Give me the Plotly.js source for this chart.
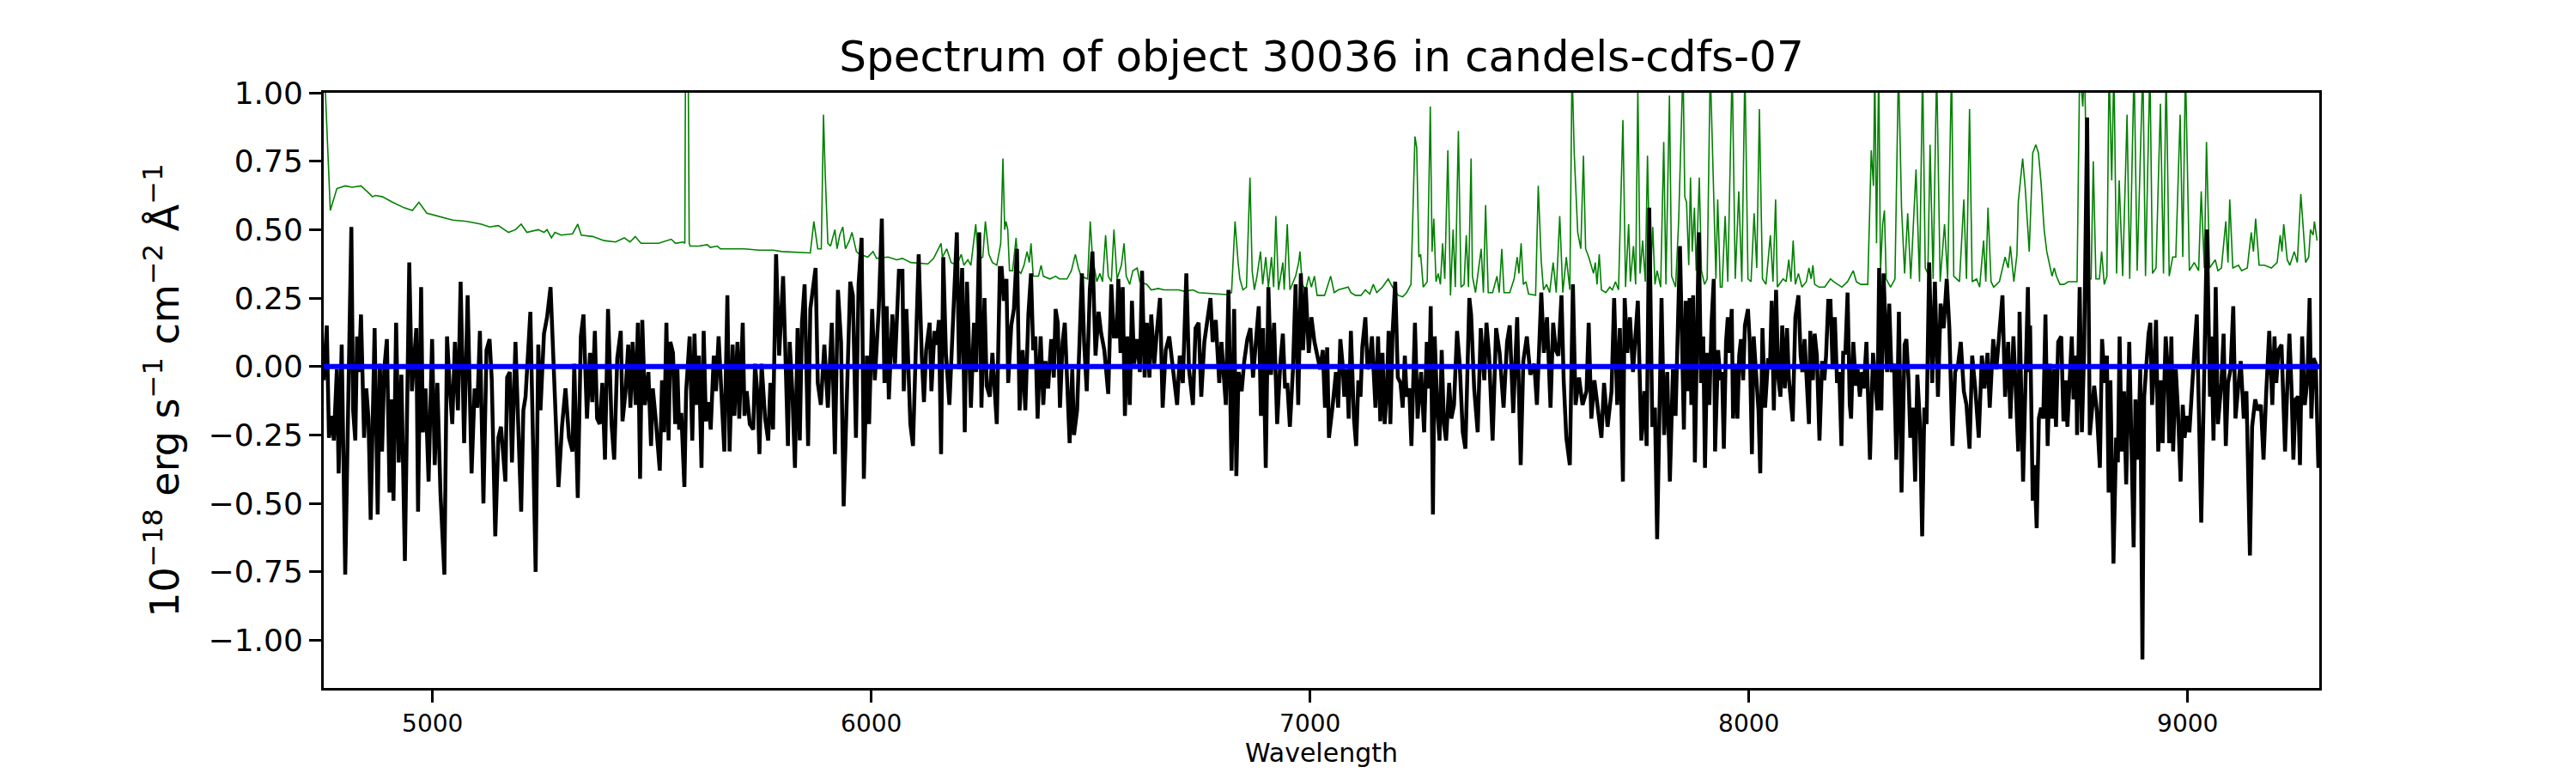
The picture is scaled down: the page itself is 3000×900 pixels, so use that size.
<!DOCTYPE html>
<html>
<head>
<meta charset="utf-8">
<script src="https://cdn.plot.ly/plotly-3.0.1.min.js"></script>
<style>
html,body{margin:0;padding:0;background:#fff;}
#chart{width:3000px;height:900px;}
</style>
</head>
<body>
<div id="chart"></div>
<script>
// Observed flux (black), wavelength in Angstrom
const wave = [4752,4759,4764,4771,4775,4782,4786,4793,4801,4810,4815,4819,4824,4828,4832,4837,4844,4849,4854,4859,4868,4875,4880,4885,4890,4896,4902,4907,4911,4917,4923,4929,4937,4947,4953,4963,4967,4974,4978,4984,4991,4999,5005,5011,5018,5027,5033,5039,5045,5051,5058,5064,5072,5080,5089,5096,5102,5108,5116,5123,5130,5135,5143,5150,5156,5166,5170,5176,5181,5189,5196,5202,5207,5212,5223,5235,5241,5246,5254,5261,5269,5275,5279,5287,5295,5303,5311,5319,5323,5331,5338,5344,5352,5359,5364,5370,5375,5381,5387,5393,5400,5408,5414,5421,5429,5433,5440,5446,5451,5456,5463,5468,5473,5478,5484,5492,5498,5502,5508,
5518,5523,5528,5533,5538,5542,5548,5553,5558,5562,5567,5574,5578,5586,5592,5597,5602,5607,5613,5618,5623,5629,5634,5641,5646,5652,5658,5665,5672,5677,5684,5688,5695,5699,5707,5711,5716,5723,5731,5735,5741,5745,5750,5758,5765,5770,5776,5783,5790,5799,5804,5810,5814,5820,5826,5832,5837,5842,5848,5856,5861,5868,5873,5878,5885,5893,5901,5910,5917,5924,5931,5937,5943,5952,5958,5965,5971,5978,5983,5990,5995,6002,6008,6017,6024,6030,6035,6040,6048,6054,6063,6071,6074,6080,6089,6095,6101,6108,6115,6120,6125,6133,6137,6144,6149,6154,6159,6164,6170,6178,6185,6195,6200,6207,6213,6218,6227,6234,6239,6246,6251,6258,6263,6270,6276,6286,
6293,6297,6302,6308,6312,6319,6325,6332,6338,6345,6351,6358,6364,6369,6374,6379,6386,6392,6397,6403,6410,6416,6420,6425,6430,6436,6441,6446,6452,6458,6462,6469,6475,6480,6485,6491,6498,6504,6511,6518,6524,6531,6540,6547,6553,6559,6563,6568,6573,6578,6583,6589,6594,6599,6606,6612,6617,6623,6628,6634,6638,6645,6651,6658,6664,6671,6679,6687,6697,6703,6710,6718,6724,6733,6739,6746,6752,6759,6764,6773,6778,6785,6793,6798,6808,6814,6821,6827,6832,6837,6844,6850,6857,6864,6870,6875,6883,6888,6893,6899,6905,6911,6918,6925,6932,6938,6943,6948,6954,6961,6967,6973,6979,6984,6990,6997,7003,7010,7016,7023,7029,7034,7039,7043,7051,7059,
7064,7069,7074,7078,7084,7088,7093,7100,7105,7110,7115,7119,7126,7131,7136,7141,7149,7155,7160,7165,7170,7175,7179,7183,7188,7194,7200,7206,7211,7216,7220,7226,7231,7239,7245,7253,7260,7266,7271,7275,7280,7284,7290,7295,7300,7305,7310,7317,7322,7328,7335,7341,7348,7354,7363,7367,7374,7382,7389,7397,7402,7408,7416,7424,7432,7441,7449,7455,7463,7472,7480,7486,7494,7502,7511,7517,7527,7533,7540,7548,7554,7560,7566,7573,7578,7584,7592,7599,7605,7613,7621,7630,7635,7641,7648,7656,7664,7670,7678,7687,7693,7700,7706,7713,7717,7723,7729,7736,7742,7747,7755,7762,7767,7773,7780,7786,7791,7801,7807,7814,7820,7827,7833,7837,7843,
7852,7856,7861,7865,7869,7873,7877,7881,7886,7891,7896,7900,7905,7910,7915,7920,7923,7930,7935,7939,7943,7948,7952,7956,7961,7964,7971,7974,7978,7982,7987,7991,7998,8002,8007,8011,8016,8022,8026,8031,8037,8044,8048,8052,8057,8062,8067,8072,8076,8082,8087,8091,8095,8100,8106,8113,8118,8122,8127,8133,8137,8140,8146,8150,8155,8161,8167,8172,8176,8181,8186,8191,8196,8201,8206,8211,8215,8220,8225,8230,8233,8238,8244,8248,8253,8258,8262,8268,8276,8283,8288,8293,8297,8302,8307,8311,8315,8320,8325,8331,8336,8342,8348,8355,8359,8364,8368,8374,8379,8384,8390,8395,8400,8405,8411,8418,8424,8431,8437,8444,8451,8457,8464,8470,8477,8483,8490,8496,8503,8509,8516,8524,8531,8537,8544,8549,8557,8564,8570,8578,8584,8591,8596,8603,8609,8614,
8617,8621,8625,8630,8636,8639,8641,8647,8651,8656,8661,8666,8671,8676,8681,8686,8691,8696,8700,8705,8712,8717,8722,8726,8731,8736,8740,8746,8748,8754,8759,8764,8771,8777,8782,8787,8793,8800,8805,8811,8816,8820,8824,8831,8837,8841,8845,8850,8855,8860,8867,8872,8877,8881,8887,8892,8897,8901,8906,8911,8915,8919,8924,8928,8933,8939,8943,8950,8954,8958,8963,8967,8973,8978,8984,8989,8993,8999,9004,9008,9015,9021,9031,9038,9044,9051,9054,9059,9064,9069,9077,9082,9087,9092,9098,9104,9109,9115,9121,9128,9134,9142,9147,9154,9160,9167,9173,9179,9186,9193,9198,9202,9207,9214,9222,9227,9232,9237,9241,9246,9252,9256,9261,9267,9273,9278,9282,9287,9292,9298];
const flux = [-0.05,0.15,-0.26,-0.18,-0.27,-0.01,-0.39,0.08,-0.76,0.05,0.51,-0.16,-0.27,0.11,-0.02,0.19,-0.26,-0.08,-0.19,-0.56,0.14,-0.54,0.01,-0.31,-0.01,0.10,-0.46,-0.12,-0.49,0.16,-0.35,-0.03,-0.71,0.38,-0.09,0.14,-0.53,0.29,-0.24,-0.08,-0.42,0.10,-0.36,-0.06,-0.46,-0.76,0.11,-0.07,-0.21,0.09,-0.16,0.31,-0.28,0.26,-0.39,-0.08,-0.15,0.13,-0.50,0.06,0.10,-0.05,-0.62,-0.26,-0.22,-0.42,-0.04,-0.02,-0.35,0.09,-0.29,-0.53,-0.16,-0.11,0.20,-0.75,0.08,-0.16,0.12,0.18,0.29,0.06,-0.14,-0.44,-0.22,-0.08,-0.26,-0.31,0.01,-0.48,0.11,0.19,-0.19,0.05,-0.13,0.13,-0.19,-0.21,-0.06,-0.34,0.21,-0.21,-0.34,0.03,0.13,-0.20,-0.09,0.08,-0.15,0.09,-0.14,0.16,-0.41,0.17,-0.14,-0.02,-0.29,-0.08,-0.18,
-0.38,-0.05,-0.24,0.16,-0.27,0.09,0.05,-0.21,0.00,-0.23,-0.17,-0.44,-0.09,0.11,-0.27,0.12,-0.14,0.04,-0.37,0.13,-0.20,-0.13,-0.23,0.04,-0.09,0.11,-0.11,-0.31,0.26,-0.31,0.08,-0.18,0.09,-0.19,0.16,-0.18,-0.09,-0.21,-0.23,0.01,-0.11,-0.32,0.01,-0.19,-0.27,-0.06,-0.23,0.41,0.04,0.33,0.06,-0.29,0.09,-0.09,-0.37,0.14,-0.27,0.16,0.30,-0.29,0.21,0.29,0.36,-0.06,-0.14,0.08,-0.15,0.16,-0.32,0.28,0.09,-0.51,-0.14,0.31,0.26,-0.26,0.30,0.47,-0.41,0.04,-0.21,0.21,-0.05,0.21,0.54,-0.06,0.22,-0.12,0.19,0.01,0.35,0.35,-0.09,0.21,-0.21,-0.29,0.04,0.41,0.04,-0.13,0.06,0.16,-0.09,0.13,0.08,0.17,-0.32,0.40,0.05,-0.14,0.12,0.49,-0.01,0.36,-0.24,0.31,-0.15,0.16,-0.02,0.49,-0.15,0.25,-0.07,-0.11,0.05,-0.21,
0.36,0.36,0.24,0.32,-0.06,0.15,0.21,0.43,-0.16,0.06,-0.16,0.19,0.34,0.06,0.11,-0.19,0.11,-0.14,0.02,-0.08,0.10,-0.04,0.21,0.16,-0.15,0.09,0.16,-0.01,-0.28,-0.01,-0.25,-0.16,0.10,0.34,0.09,-0.09,0.28,0.42,0.04,0.20,0.12,0.06,-0.10,0.30,0.11,0.11,0.32,0.05,0.29,-0.18,0.11,-0.14,0.24,0.01,0.10,-0.02,0.35,-0.04,0.16,-0.04,0.19,0.01,0.13,0.25,-0.15,0.06,0.11,0.01,-0.14,0.04,-0.06,0.34,-0.01,-0.14,0.14,0.16,-0.11,0.09,0.14,0.25,0.09,0.17,-0.06,0.09,-0.14,0.28,-0.38,0.21,-0.40,-0.02,-0.09,0.02,0.10,0.14,-0.04,0.06,0.22,-0.18,0.14,-0.37,0.29,-0.03,0.16,-0.21,0.01,0.12,-0.08,-0.06,-0.22,-0.01,0.30,-0.14,0.34,0.06,0.29,0.05,0.18,0.09,0.04,-0.01,0.06,-0.15,0.07,-0.26,-0.15,-0.02,
-0.15,0.10,0.01,-0.11,-0.01,-0.19,0.13,-0.19,-0.29,-0.05,-0.11,0.07,0.18,-0.01,0.02,0.11,-0.15,0.11,-0.20,0.05,-0.21,-0.09,0.13,-0.21,0.12,0.31,-0.04,-0.06,-0.15,0.04,-0.11,-0.08,-0.29,0.16,-0.19,-0.02,-0.24,0.09,-0.08,0.22,-0.54,0.11,-0.16,-0.27,0.06,-0.21,-0.27,-0.06,-0.19,-0.14,0.13,0.01,-0.24,-0.30,0.25,0.19,-0.08,-0.24,0.14,-0.05,0.16,0.04,-0.27,0.14,0.05,-0.15,0.09,0.15,-0.17,0.18,-0.36,0.02,0.11,-0.03,0.01,-0.14,0.27,0.05,0.18,-0.15,0.16,0.06,0.04,0.26,-0.05,-0.26,-0.36,0.30,-0.14,-0.04,-0.14,-0.09,0.16,-0.19,-0.05,-0.16,-0.26,-0.06,-0.22,-0.09,0.25,-0.14,0.14,-0.42,0.25,0.05,0.18,-0.02,0.14,0.24,-0.27,-0.09,-0.29,0.58,-0.22,-0.15,-0.63,0.25,-0.25,-0.02,-0.42,-0.01,-0.18,0.06,0.44,
-0.23,0.24,-0.09,0.25,-0.14,0.26,-0.35,0.09,0.49,-0.06,0.11,-0.37,0.05,-0.14,0.16,0.32,-0.31,0.06,-0.05,-0.02,-0.30,0.09,0.18,0.05,0.21,-0.19,0.01,-0.19,0.04,0.10,-0.05,0.15,0.21,0.09,-0.32,0.11,-0.02,-0.16,-0.39,0.14,-0.15,0.03,-0.01,0.24,-0.16,0.28,-0.04,-0.11,0.15,-0.08,0.14,-0.04,-0.11,-0.20,0.18,0.26,0.04,-0.02,0.10,-0.06,-0.21,0.13,-0.05,0.12,0.04,-0.27,0.02,-0.05,0.04,0.24,0.24,-0.01,0.18,-0.06,-0.02,-0.29,0.05,0.05,0.27,-0.14,-0.19,0.09,-0.07,-0.01,-0.11,-0.02,-0.08,0.09,-0.34,0.05,-0.08,-0.16,0.36,-0.16,0.34,0.18,-0.02,0.23,-0.02,0.01,-0.34,0.20,-0.46,0.08,0.10,-0.05,-0.26,-0.15,-0.42,-0.03,-0.21,-0.62,-0.15,-0.21,0.38,-0.06,0.31,-0.11,0.23,0.14,0.32,0.14,-0.29,-0.02,0.01,0.09,-0.09,-0.14,-0.30,0.04,-0.08,-0.26,0.04,-0.08,0.05,-0.15,0.10,-0.01,0.11,0.26,-0.11,0.09,-0.19,0.11,-0.11,-0.31,
0.20,-0.09,-0.42,-0.09,0.29,-0.02,0.15,-0.49,-0.36,-0.59,-0.19,-0.15,-0.19,0.19,-0.29,0.01,-0.19,-0.01,-0.22,0.09,0.11,-0.20,-0.05,-0.22,-0.04,0.11,-0.12,0.04,-0.25,0.29,-0.24,0.05,0.91,-0.25,-0.16,-0.07,-0.16,-0.37,0.10,-0.06,0.04,-0.46,-0.05,-0.72,-0.26,-0.35,0.11,-0.31,-0.09,-0.43,0.09,-0.34,-0.66,-0.12,-0.34,-0.01,-1.07,-0.11,0.03,0.12,0.16,-0.14,0.01,0.17,-0.31,-0.05,-0.28,0.11,0.01,-0.28,0.11,-0.31,-0.01,-0.16,-0.42,-0.14,-0.26,-0.18,-0.24,-0.11,0.05,0.19,-0.57,-0.01,0.50,-0.11,0.11,-0.27,0.29,-0.21,-0.06,0.12,-0.29,-0.06,-0.01,0.22,-0.19,-0.08,0.02,-0.19,-0.09,-0.69,-0.22,-0.12,-0.16,-0.14,-0.34,-0.10,0.13,-0.14,0.11,-0.06,0.06,0.08,-0.31,-0.08,0.12,-0.09,-0.34,-0.12,-0.11,-0.36,0.11,-0.14,-0.05,0.25,-0.19,0.03,0.01,-0.37];

// Sky / noise spectrum (green)
const skyWave = [4752,4767,4782,4801,4817,4837,4857,4863,4870,4886,4909,4935,4954,4969,4987,5013,5046,5078,5111,5130,5150,5173,5189,5202,5215,5241,5254,5261,5271,5279,5293,5319,5331,5339,5365,5391,5417,5437,5450,5462,5475,
5515,5544,5554,5571,5575,5577,5582,5585,5587,5607,5626,5633,5649,5656,5678,5711,5744,5776,5796,5861,5869,5878,5886,5891,5895,5901,5907,5917,5922,5928,5935,5941,5950,5956,5966,5973,5992,6004,6012,6038,6058,6071,6090,6129,6142,6159,6162,6172,6182,6195,6205,6211,6220,6227,6238,6244,6254,6260,6268,6276,6286,
6295,6300,6304,6307,6311,6315,6322,6330,6335,6341,6348,6355,6360,6364,6369,6381,6387,6392,6407,6420,6429,6446,6456,6465,6472,6478,6493,6499,6504,6514,6521,6527,6534,6540,6547,6553,6560,6570,6576,6581,6589,6596,6606,6612,6628,6638,6654,6667,6700,6713,6733,6746,6785,6811,6821,6829,6836,6840,6847,6855,6863,6868,6873,6879,6887,6892,6899,6905,6912,6917,6922,6928,6938,6941,6948,6954,6967,6974,6977,6982,6990,6997,7003,7010,7016,7033,7047,7055,
7064,7077,7087,7093,7103,7116,7126,7136,7144,7152,7165,7178,7188,7201,7211,7220,7230,7239,7243,7248,7252,7258,7267,7274,7278,7282,7287,7292,7297,7302,7307,7314,7320,7326,7331,7338,7344,7351,7356,7361,7367,7370,7377,7390,7395,7400,7406,7416,7426,7431,7437,7442,7455,7465,7472,7476,7481,7486,7492,7498,7514,7520,7527,7532,7539,7546,7554,7561,7569,7576,7584,7592,7597,7602,7610,7617,7623,7628,7635,7646,7650,7654,7659,7664,7674,7683,7689,7696,7703,7713,7719,7726,7730,7737,7742,7747,7752,7758,7764,7769,7775,7781,7786,7791,7799,7806,7811,7819,7824,7833,
7840,7850,7854,7858,7863,7867,7871,7876,7880,7887,7892,7899,7905,7912,7917,7920,7925,7929,7935,7939,7946,7952,7962,7969,7977,7984,7991,7998,8005,8012,8018,8024,8031,8039,8049,8055,8061,8065,8078,8085,8091,8096,8101,8106,8113,8121,8131,8137,8142,8146,8150,8160,8173,8186,8193,8212,8225,8238,8245,8255,8271,8279,8284,8287,8291,8296,8300,8305,8309,8313,8323,8333,8341,8348,8355,8362,8369,8381,8389,8396,8402,8408,8413,8420,8428,8436,8446,8453,8462,8467,8480,8490,8496,8503,8509,8519,8526,8535,8540,8545,8552,8558,8571,8584,8591,8596,8604,8611,
8614,8624,8630,8639,8647,8654,8660,8666,8673,8679,8686,8691,8696,8701,8709,8718,8728,8748,8754,8761,8765,8774,8780,8785,8791,8799,8804,8810,8816,8821,8827,8832,8838,8844,8852,8862,8868,8878,8885,8898,8904,8914,8920,8928,8938,8945,8951,8958,8966,8973,8983,8989,8995,9004,9015,9025,9031,9038,9043,9050,9063,9069,9077,9087,9092,9096,9103,9116,9123,9136,9145,9150,9155,9163,9175,9191,9204,9211,9215,9219,9227,9233,9243,9250,9258,9265,9269,9276,9280,9286,9289,9295];
const skyFlux = [1.15,0.57,0.65,0.66,0.655,0.66,0.63,0.62,0.625,0.62,0.60,0.58,0.57,0.60,0.56,0.55,0.535,0.53,0.52,0.51,0.515,0.49,0.50,0.52,0.49,0.50,0.49,0.50,0.47,0.49,0.48,0.485,0.52,0.48,0.475,0.46,0.455,0.47,0.455,0.475,0.45,
0.45,0.465,0.45,0.455,0.45,1.30,1.30,0.45,0.44,0.44,0.445,0.435,0.44,0.43,0.43,0.43,0.425,0.425,0.42,0.415,0.53,0.43,0.43,0.92,0.70,0.45,0.44,0.50,0.43,0.48,0.51,0.43,0.46,0.49,0.42,0.41,0.40,0.42,0.395,0.40,0.39,0.395,0.38,0.375,0.395,0.45,0.40,0.43,0.38,0.37,0.41,0.37,0.39,0.37,0.52,0.39,0.40,0.53,0.41,0.38,0.37,
0.45,0.76,0.50,0.53,0.50,0.35,0.35,0.47,0.35,0.34,0.37,0.42,0.38,0.45,0.33,0.33,0.37,0.33,0.32,0.33,0.32,0.32,0.35,0.41,0.36,0.33,0.32,0.53,0.40,0.31,0.34,0.31,0.48,0.33,0.31,0.50,0.32,0.37,0.45,0.33,0.30,0.35,0.36,0.31,0.30,0.28,0.285,0.28,0.28,0.275,0.28,0.27,0.265,0.263,0.27,0.53,0.38,0.32,0.28,0.29,0.69,0.35,0.28,0.33,0.42,0.30,0.40,0.29,0.40,0.29,0.55,0.28,0.38,0.28,0.52,0.28,0.33,0.38,0.42,0.30,0.28,0.33,0.29,0.33,0.26,0.26,0.33,0.27,
0.28,0.285,0.29,0.27,0.26,0.26,0.28,0.265,0.30,0.27,0.29,0.32,0.29,0.26,0.255,0.27,0.30,0.84,0.80,0.40,0.41,0.29,0.31,0.95,0.42,0.54,0.31,0.34,0.30,0.45,0.32,0.79,0.26,0.50,0.29,0.86,0.29,0.30,0.48,0.29,0.76,0.33,0.27,0.43,0.27,0.59,0.27,0.27,0.33,0.27,0.43,0.27,0.27,0.32,0.40,0.34,0.45,0.30,0.31,0.265,0.26,0.66,0.38,0.28,0.30,0.27,0.38,0.27,0.55,0.27,0.40,0.28,1.10,0.78,0.49,0.43,0.77,0.43,0.40,0.34,0.38,0.30,0.41,0.28,0.27,0.29,0.28,0.31,0.28,0.90,0.29,0.52,0.31,0.44,0.30,1.02,0.34,0.46,0.31,0.77,0.30,0.51,0.30,0.35,0.29,0.82,0.30,0.99,0.33,0.29,
0.53,1.10,0.62,0.60,0.37,0.69,0.42,0.58,0.35,0.69,0.35,0.30,0.32,1.10,0.77,0.59,0.32,0.61,0.29,0.29,0.55,0.31,1.10,0.32,0.64,0.31,1.10,0.32,0.31,0.56,0.36,0.94,0.32,0.30,0.48,0.31,0.61,0.29,0.32,0.31,0.39,0.31,0.46,0.30,0.34,0.29,0.31,0.36,0.32,0.37,0.30,0.29,0.29,0.32,0.31,0.29,0.31,0.35,0.31,0.30,0.30,0.79,0.66,1.10,0.45,1.10,0.35,0.52,0.57,0.32,0.29,0.32,1.10,0.58,0.34,0.56,0.32,0.72,0.31,1.10,0.36,0.34,0.81,0.32,1.10,0.31,0.52,0.32,1.10,0.33,0.31,0.61,0.32,0.94,0.31,0.32,0.29,0.46,0.31,0.58,0.31,0.29,0.31,0.40,0.36,0.44,0.31,0.41,
0.60,0.76,0.65,0.42,0.78,0.81,0.78,0.67,0.50,0.42,0.37,0.33,0.36,0.33,0.30,0.30,0.31,0.31,1.10,0.95,1.10,0.32,0.32,0.75,0.32,0.32,0.42,0.30,0.33,1.10,0.68,1.10,0.34,0.68,0.33,0.92,0.32,1.10,0.35,1.10,0.33,1.10,0.34,0.36,0.96,0.34,1.10,0.33,0.40,0.40,0.92,0.40,1.10,0.35,0.38,0.35,0.64,0.36,0.82,0.36,0.39,0.35,0.36,0.53,0.38,0.61,0.36,0.37,0.35,0.36,0.49,0.42,0.54,0.37,0.37,0.36,0.38,0.48,0.42,0.52,0.39,0.37,0.42,0.38,0.63,0.45,0.38,0.40,0.50,0.48,0.53,0.46];

// Zero reference line (blue)
const zeroWave = [4752, 9300];
const zeroFlux = [0, 0];

const xTicks = [5000, 6000, 7000, 8000, 9000];
const yTicks = [-1.00, -0.75, -0.50, -0.25, 0.00, 0.25, 0.50, 0.75, 1.00];

const titleText = 'Spectrum of object 30036 in candels-cdfs-07';
const xTitle = 'Wavelength';
const yTitle = '10<sup>−18</sup> erg s<sup>−1</sup> cm<sup>−2</sup> Å<sup>−1</sup>';

const traces = [
  {x: skyWave, y: skyFlux, type: 'scatter', mode: 'lines', line: {color: '#008000', width: 1.6}, hoverinfo: 'skip'},
  {x: wave, y: flux, type: 'scatter', mode: 'lines', line: {color: '#000000', width: 4.5}, hoverinfo: 'skip'},
  {x: zeroWave, y: zeroFlux, type: 'scatter', mode: 'lines', line: {color: '#0000ff', width: 6}, hoverinfo: 'skip'}
];

const axisCommon = {
  showgrid: false, zeroline: false, showline: true, mirror: true,
  linecolor: '#000', linewidth: 3, ticks: 'outside', ticklen: 14, tickwidth: 3, tickcolor: '#000'
};

const layout = {
  width: 3000, height: 900,
  margin: {l: 377, r: 299, t: 108, b: 99, pad: 0},
  paper_bgcolor: '#fff', plot_bgcolor: '#fff',
  showlegend: false,
  font: {family: 'DejaVu Sans', color: '#000'},
  title: {text: titleText, font: {size: 50, family: 'DejaVu Sans', color: '#000'},
          x: 0.5, xref: 'paper', xanchor: 'center', y: (900 - 83) / 900, yref: 'container', yanchor: 'bottom'},
  xaxis: Object.assign({}, axisCommon, {
    range: [4752, 9300], tickvals: xTicks, ticktext: xTicks.map(String),
    tickfont: {size: 28}, title: {text: xTitle, font: {size: 30}, standoff: 6}
  }),
  yaxis: Object.assign({}, axisCommon, {
    range: [-1.174, 1.0], tickvals: yTicks, tickformat: '.2f',
    tickfont: {size: 36}, title: {text: yTitle, font: {size: 46}, standoff: 20}
  })
};

Plotly.newPlot('chart', traces, layout, {staticPlot: true, displayModeBar: false});
</script>
</body>
</html>
